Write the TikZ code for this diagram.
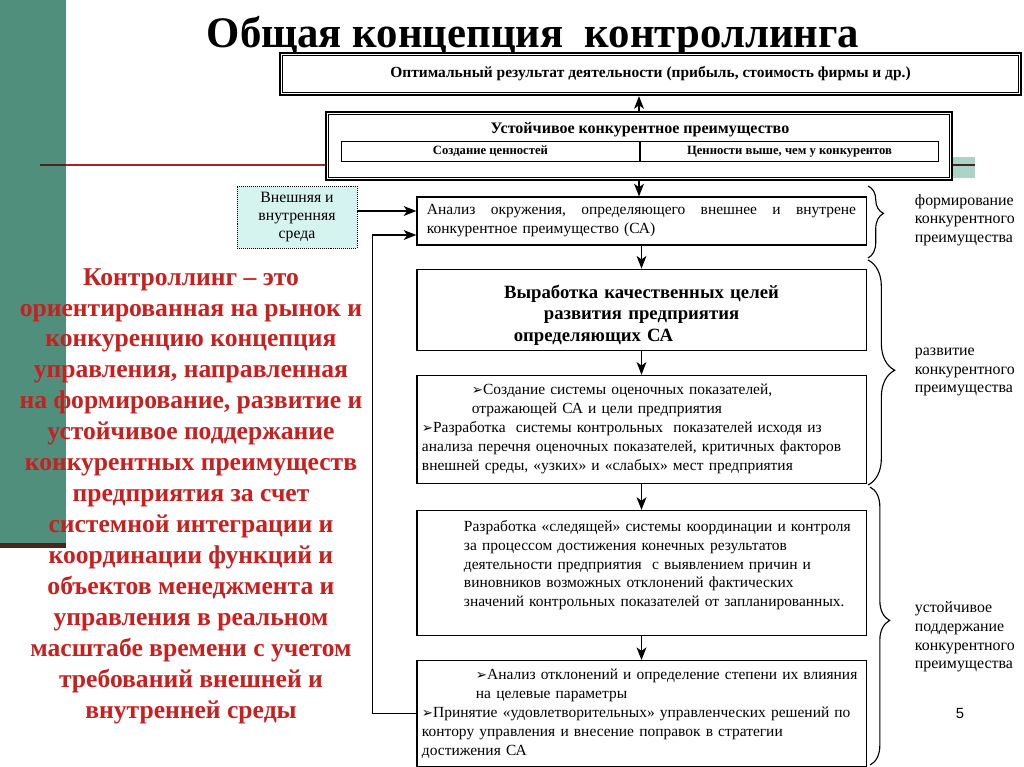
\documentclass[tikz,border=0pt]{standalone}
\usepackage{graphicx}
\usepackage{fontspec}
\setmainfont{Liberation Serif}
\newfontfamily\symfont{DejaVu Sans}
\newfontfamily\pagefont{Liberation Sans}
\usetikzlibrary{positioning,arrows.meta,decorations.pathreplacing,calc}
\definecolor{slidegreen}{HTML}{4F8F7B}
\definecolor{palegreen}{HTML}{A9D4C6}
\definecolor{rulered}{HTML}{A3262A}
\definecolor{ruledark}{HTML}{4A2520}
\definecolor{envfill}{HTML}{D5F3EF}
\definecolor{defred}{HTML}{C81F1F}
\tikzset{
  stage/.style={rectangle, draw, line width=0.8pt, fill=white, minimum width=11.225cm,
                inner xsep=0.125cm, inner ysep=0pt, text width=10.975cm, align=left,
                font=\fontsize{11}{13.5}\selectfont},
  dframe/.style={rectangle, draw, line width=1.6pt, fill=white, inner sep=0pt},
  cell/.style={rectangle, draw, line width=0.7pt, minimum height=0.5cm, minimum width=7.45cm,
               inner sep=0pt, text height=6.5pt, text depth=2pt,
               font=\bfseries\fontsize{9}{10}\selectfont},
  side/.style={anchor=west, align=left, font=\fontsize{11.3}{13.2}\selectfont},
  arr/.style={-{Stealth[length=9pt,width=7pt,inset=2.5pt]}, line width=1pt},
  curly/.style={decorate, line width=0.8pt},
}
\newcommand{\pointer}{{\symfont\fontsize{9.5}{10}\selectfont ➢}}

\begin{document}
\begin{tikzpicture}[x=0.025cm, y=-0.025cm]
  \useasboundingbox (0,0) rectangle (1024,767);
  \fill[white] (0,0) rectangle (1024,767);
  % slide decoration
  \fill[slidegreen] (0,0) rectangle (66,543);
  \fill[ruledark] (0,543) rectangle (66,548);
  \fill[palegreen] (770,157) rectangle (975,178);
  \draw[ruledark, line width=2pt] (40,165) -- (66,165);
  \draw[rulered, line width=2pt] (66,165) -- (330,165);
  \draw[ruledark, line width=2pt] (940,165) -- (975,165);

  \node[anchor=base] (title) at (533,48)
    {\resizebox{16.3cm}{0.78cm}{\bfseries Общая концепция\ \ контроллинга}};

  % top boxes
  \node[dframe, minimum width=18.525cm, minimum height=1.05cm,
        font=\bfseries\fontsize{11}{12}\selectfont] (result) at (650.5,74)
    {Оптимальный результат деятельности (прибыль, стоимость фирмы и др.)};
  \draw[line width=0.6pt] ($(result.north west)+(4,4)$) rectangle ($(result.south east)+(-4,-4)$);
  \node[dframe, minimum width=15.65cm, minimum height=1.7cm] (adv) at (639,146) {};
  \draw[line width=0.6pt] ($(adv.north west)+(4,4)$) rectangle ($(adv.south east)+(-4,-4)$);
  \node[font=\bfseries\fontsize{11.4}{13}\selectfont] (advtitle) at (640,130)
    {Устойчивое конкурентное преимущество};
  \node[cell, anchor=east] (valcreate) at (640,151) {Создание ценностей};
  \node[cell, anchor=west] (valhigher) at (640,151) {Ценности выше, чем у конкурентов};

  \node[rectangle, draw, densely dotted, fill=envfill, minimum width=3cm, minimum height=1.55cm,
        align=center, font=\fontsize{11.2}{12.8}\selectfont] (env) at (297,217)
    {Внешняя и\\ внутренняя\\ среда};

  % process chain
  \node[stage, minimum height=1.2cm, inner xsep=0.25cm, text width=10.725cm] (scan) at (641.5,221)
    {\hbox to 10.725cm{Анализ\hfill окружения,\hfill определяющего\hfill внешнее\hfill и\hfill внутрене}\\
     конкурентное преимущество (СА)};
  \node[stage, minimum height=2.025cm, below=0.575cm of scan, align=center,
        font=\bfseries\fontsize{13.3}{15.3}\selectfont] (goals)
    {\rule{0pt}{17pt}Выработка качественных целей\\ развития предприятия\\ определяющих СА\hspace{2.4cm}\mbox{}};
  \node[stage, minimum height=2.7cm, below=0.6cm of goals] (metrics)
    {\hspace*{1.25cm}\pointer Создание системы оценочных показателей,\\
     \hspace*{1.25cm}отражающей СА и цели предприятия\\
     \pointer Разработка\ \ системы контрольных\ \ показателей исходя из\\
     анализа перечня оценочных показателей, критичных факторов\\
     внешней среды, «узких» и «слабых» мест предприятия};
  \node[stage, minimum height=3.125cm, below=0.65cm of metrics] (tracking)
    {\hspace*{1.05cm}Разработка «следящей» системы координации и контроля\\
     \hspace*{1.05cm}за процессом достижения конечных результатов\\
     \hspace*{1.05cm}деятельности предприятия\ \ с выявлением причин и\\
     \hspace*{1.05cm}виновников возможных отклонений фактических\\
     \hspace*{1.05cm}значений контрольных показателей от запланированных.\\
     \mbox{}};
  \node[stage, minimum height=2.65cm, below=0.6cm of tracking] (correct)
    {\hspace*{1.35cm}\pointer Анализ отклонений и определение степени их влияния\\
     \hspace*{1.35cm}на целевые параметры\\
     \pointer Принятие «удовлетворительных» управленческих решений по\\
     контору управления и внесение поправок в стратегии\\
     достижения СА};

  % connectors
  \draw[arr] (adv.north) -- (adv.north |- result.south);
  \draw[arr] (adv.south) -- (adv.south |- scan.north);
  \draw[arr] (scan) -- (goals);
  \draw[arr] (goals) -- (metrics);
  \draw[arr] (metrics) -- (tracking);
  \draw[arr] (tracking) -- (correct);
  \coordinate (envin) at ([yshift=0.25cm]scan.west);
  \coordinate (loopin) at ([yshift=-0.35cm]scan.west);
  \draw[arr] (env.east |- envin) -- (envin);
  \draw[arr] (correct.west) -- ++(-44,0) |- (loopin);

  % braces and phase labels
  \draw[curly, decoration={brace, amplitude=11pt, aspect=0.38}] (868,186) -- (868,258);
  \draw[curly, decoration={brace, amplitude=19pt, aspect=0.49}] (868,260) -- (868,485);
  \draw[curly, decoration={brace, amplitude=14pt, aspect=0.48}] (870,487) -- (870,765);
  \node[side] (lblform) at (910,220) {формирование\\ конкурентного\\ преимущества};
  \node[side] (lbldev) at (910,372) {развитие\\ конкурентного\\ преимущества};
  \node[side] (lblsust) at (910,637) {устойчивое\\ поддержание\\ конкурентного\\ преимущества};

  \node[text=defred, align=center, font=\bfseries\fontsize{18.2}{22}\selectfont] (define) at (191,496)
    {Контроллинг – это\\ ориентированная на рынок и\\ конкуренцию концепция\\
     управления, направленная\\ на формирование, развитие и\\ устойчивое поддержание\\
     конкурентных преимуществ\\ предприятия за счет\\ системной интеграции и\\
     координации функций и\\ объектов менеджмента и\\ управления в реальном\\
     масштабе времени с учетом\\ требований внешней и\\ внутренней среды};

  \node[font=\pagefont\fontsize{10.5}{12}\selectfont] (pagenum) at (960,713) {5};
\end{tikzpicture}
\end{document}
